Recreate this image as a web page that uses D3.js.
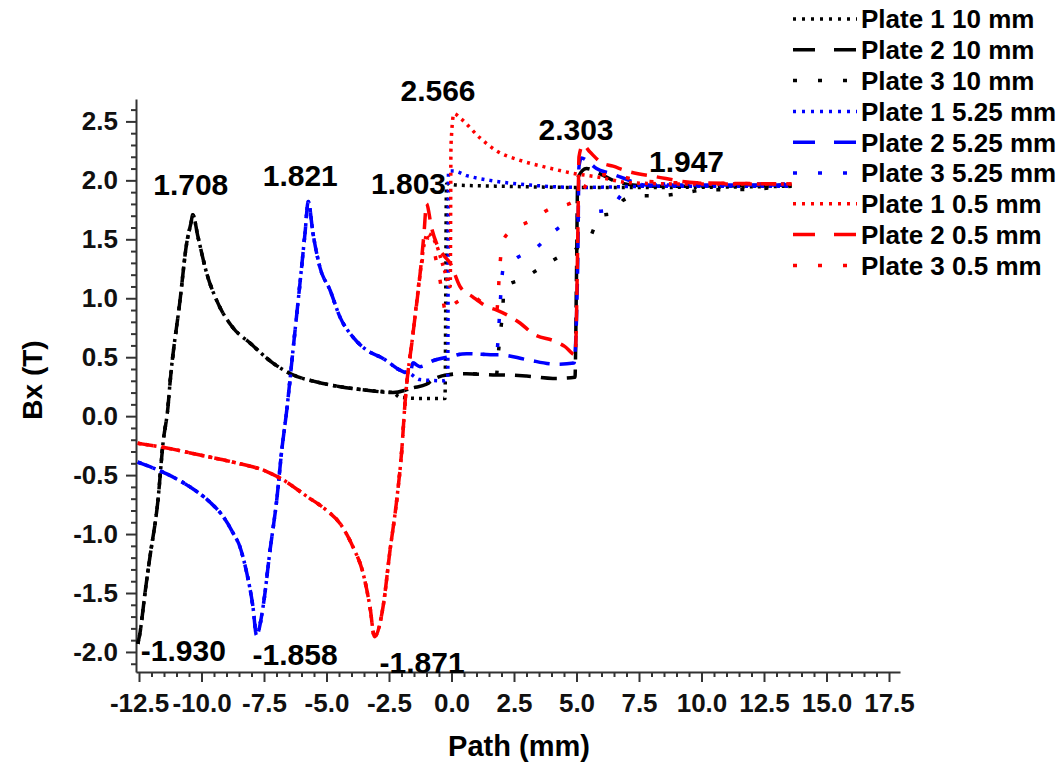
<!DOCTYPE html>
<html>
<head>
<meta charset="utf-8">
<script src="https://cdn.jsdelivr.net/npm/d3@7"></script>
<style>
    body { margin: 0; background: #fff; }
    svg { display: block; font-family: "Liberation Sans", Arial, sans-serif; font-weight: bold; }
    .axis path, .axis line { stroke: #333; stroke-width: 2; }
    .axis text { font-size: 26px; font-weight: bold; fill: #111; }
    .curve { fill: none; stroke-width: 3.5; stroke-linejoin: round; }
</style>
</head>
<body>
<svg width="1058" height="767"></svg>
<script>
// x = path (mm), y = Bx (T)

// 10 mm (black)
const black_common = [[-12.55,-1.93],[-12.46,-1.84],[-12.39,-1.73],[-12.26,-1.50],[-12.12,-1.28],[-12.06,-1.19],
    [-11.74,-0.71],[-11.54,-0.23],[-11.34,0.08],[-11.26,0.28],[-10.86,0.98],[-10.59,1.47],[-10.42,1.64],
    [-10.35,1.708],[-10.14,1.52],[-9.79,1.21],[-9.39,0.98],[-8.74,0.75],[-8.06,0.62],[-7.14,0.45],
    [-6.34,0.35],[-5.39,0.29],[-4.46,0.25],[-3.39,0.22],[-2.34,0.20]];
const black_p1 = [[-2.06,0.16],[-1.2,0.15],[-0.26,0.15],[-0.2,1.97],[0.2,1.96],[2.0,1.95],[5.1,1.94],[8.0,1.94],[13.6,1.95]];
const black_p2a = [[-1.54,0.24],[-1.0,0.27],[-0.74,0.31],[-0.19,0.35],[0.6,0.36],[1.8,0.35]];
const black_p2b = [[1.94,0.35],[3.0,0.34],[4.06,0.32],[4.94,0.33],[5.0,1.2],[5.05,2.02],[5.4,2.1],[5.9,2.06],
    [6.46,2.0],[7.26,1.96],[8.5,1.95],[13.6,1.96]];
const black_p3 = [[1.86,0.5],[1.95,0.7],[2.05,0.9],[2.1,1.09],[2.9,1.17],[3.5,1.25],[4.3,1.35],[5.0,1.42],
    [5.55,1.52],[5.94,1.7],[6.46,1.72],[6.86,1.83],[7.4,1.87],[8.34,1.87],[9.2,1.89],[10.2,1.92],[11.1,1.92],[13.6,1.95]];

// 5.25 mm (blue)
const blue_common = [[-12.55,-0.39],[-11.39,-0.49],[-10.46,-0.60],[-9.66,-0.73],[-9.14,-0.85],[-8.74,-0.99],
    [-8.46,-1.11],[-8.19,-1.33],[-7.94,-1.62],[-7.8,-1.858],[-7.54,-1.62],[-7.26,-1.14],[-6.99,-0.71],
    [-6.79,-0.29],[-6.59,0.05],[-6.34,0.56],[-6.06,1.13],[-5.86,1.55],[-5.73,1.821],[-5.54,1.55],
    [-5.26,1.26],[-4.86,1.07],[-4.46,0.84],[-3.94,0.67],[-3.39,0.56],[-2.74,0.49],[-2.06,0.39],[-1.66,0.36]];
const blue_p1 = [[-1.26,0.31],[-0.34,0.30],[-0.15,0.32],[-0.12,2.08],[0.07,2.08],[0.61,2.04],[1.54,2.0],
    [3.14,1.96],[5.14,1.94],[8.0,1.95],[13.6,1.95]];
const blue_p2a = [[-1.54,0.45],[-1.26,0.42],[-0.74,0.47],[-0.19,0.50],[0.61,0.53],[1.8,0.52]];
const blue_p2b = [[1.94,0.52],[3.0,0.48],[4.2,0.44],[4.9,0.45],[5.05,1.3],[5.1,2.12],[5.2,2.19],[5.4,2.17],
    [5.8,2.1],[6.34,2.06],[6.86,2.02],[7.8,1.96],[13.6,1.96]];
const blue_p3 = [[1.86,0.64],[1.94,0.93],[2.06,1.24],[2.6,1.34],[3.4,1.43],[4.0,1.55],[4.94,1.68],[5.66,1.73],
    [6.3,1.75],[6.86,1.89],[7.94,1.97],[13.6,1.97]];

// 0.5 mm (red)
const red_common = [[-12.55,-0.23],[-11.39,-0.27],[-10.06,-0.33],[-8.74,-0.39],[-7.39,-0.47],[-6.74,-0.54],
    [-5.79,-0.68],[-4.99,-0.80],[-4.46,-0.91],[-3.94,-1.11],[-3.54,-1.33],[-3.26,-1.62],[-3.08,-1.871],
    [-2.74,-1.62],[-2.46,-1.14],[-2.19,-0.71],[-1.99,-0.29],[-1.86,0.11],[-1.54,0.7],[-1.26,1.2]];
const red_p1 = [[-1.1,1.45],[-0.95,1.55],[-0.6,1.45],[-0.3,1.25],[-0.05,1.1],[-0.02,2.3],[0.1,2.566],[0.34,2.53],
    [1.14,2.36],[1.8,2.25],[2.74,2.17],[3.8,2.11],[4.86,2.06],[5.8,2.03],[7.14,1.98],[9.0,1.97],[13.6,1.97]];
const red_p2 = [[-1.1,1.55],[-1.0,1.803],[-0.8,1.6],[-0.59,1.46],[-0.3,1.36],[-0.06,1.30],[0.34,1.10],[0.86,1.01],
    [1.41,0.93],[1.81,0.90],[2.74,0.79],[3.26,0.70],[4.2,0.63],[4.54,0.59],[4.95,0.52],[5.05,1.5],[5.1,2.2],
    [5.26,2.30],[5.54,2.24],[6.0,2.15],[6.46,2.12],[7.0,2.08],[8.2,2.03],[9.8,1.98],[13.6,1.97]];
const red_p3 = [[-1.1,1.4],[-0.9,1.52],[-0.5,1.2],[-0.2,0.87],[0.1,0.95],[0.86,1.01],[1.41,0.93],[1.81,0.9],
    [1.94,1.29],[2.06,1.49],[2.46,1.58],[3.2,1.66],[3.94,1.76],[4.8,1.81],[5.2,1.9],[5.6,2.02],[6.3,2.05],
    [7.5,2.0],[9.0,1.98],[13.6,1.97]];

const seriesNames = ['Plate 1 10 mm', 'Plate 2 10 mm', 'Plate 3 10 mm',
    'Plate 1 5.25 mm', 'Plate 2 5.25 mm', 'Plate 3 5.25 mm',
    'Plate 1 0.5 mm', 'Plate 2 0.5 mm', 'Plate 3 0.5 mm'];

const seriesPoints = [
    black_common.concat(black_p1),
    black_common.concat(black_p2a, black_p2b),
    black_common.concat(black_p2a, black_p3),
    blue_common.concat(blue_p1),
    blue_common.concat(blue_p2a, blue_p2b),
    blue_common.concat(blue_p2a, blue_p3),
    red_common.concat(red_p1),
    red_common.concat(red_p2),
    red_common.concat(red_p3),
];

// peak / valley values written on the chart: [x, y, text]
const peakLabels = [[-10.35,1.708,'1.708'],[-5.73,1.821,'1.821'],[-1.0,1.803,'1.803'],[0.1,2.566,'2.566'],
    [5.26,2.303,'2.303'],[9.4,1.947,'1.947']];
const valleyLabels = [[-12.55,-1.93,'-1.930'],[-7.8,-1.858,'-1.858'],[-3.08,-1.871,'-1.871']];

const xTicks = d3.range(-125, 176, 25).map(v => v / 10);
const yTicks = d3.range(-20, 26, 5).map(v => v / 10);

// styles
const COLORS = ['#000000', '#0000ff', '#ff0000'];
const DASH = ['3,5', '16,10', '4,20'];
const LEGEND_DASH = ['3,6', '22,19', '4,21'];

const svg = d3.select('svg');

const x = d3.scaleLinear().domain([-12.62, 17.94]).range([136, 900]);
const y = d3.scaleLinear().domain([-2.17, 2.69]).range([672, 99]);

// minor ticks
svg.append('g')
    .attr('class', 'axis')
    .attr('transform', 'translate(0,672)')
    .call(d3.axisBottom(x)
        .tickValues(d3.range(-125, 176, 5).map(v => v / 10).filter(v => !xTicks.includes(v)))
        .tickSize(5).tickSizeOuter(0).tickFormat(''));

svg.append('g')
    .attr('class', 'axis')
    .attr('transform', 'translate(136,0)')
    .call(d3.axisLeft(y)
        .tickValues(d3.range(-21, 27).map(v => v / 10).filter(v => !yTicks.includes(v)))
        .tickSize(5).tickSizeOuter(0).tickFormat(''));

// major ticks
const xAxis = svg.append('g')
    .attr('class', 'axis')
    .attr('transform', 'translate(0,672)')
    .call(d3.axisBottom(x).tickValues(xTicks).tickSize(10).tickSizeOuter(0)
        .tickPadding(12).tickFormat(d => d.toFixed(1)));
xAxis.select('.domain').remove();

const yAxis = svg.append('g')
    .attr('class', 'axis')
    .attr('transform', 'translate(136,0)')
    .call(d3.axisLeft(y).tickValues(yTicks).tickSize(10).tickSizeOuter(0)
        .tickPadding(8).tickFormat(d => d.toFixed(1)));
yAxis.select('.domain').remove();

svg.append('text')
    .attr('x', 519)
    .attr('y', 756)
    .attr('text-anchor', 'middle')
    .style('font-size', '29px')
    .text('Path (mm)');

svg.append('text')
    .attr('transform', 'translate(42,380) rotate(-90)')
    .attr('text-anchor', 'middle')
    .style('font-size', '28px')
    .text('Bx (T)');

// curves
const line = d3.line()
    .curve(d3.curveMonotoneX)
    .x(d => x(d[0]))
    .y(d => y(d[1]));

svg.append('g')
    .selectAll('path')
    .data(seriesPoints)
    .enter()
    .append('path')
    .classed('curve', true)
    .attr('d', line)
    .attr('stroke', (d, i) => COLORS[Math.floor(i / 3)])
    .attr('stroke-dasharray', (d, i) => DASH[i % 3]);

// value labels
svg.append('g')
    .selectAll('text')
    .data(peakLabels)
    .enter()
    .append('text')
    .attr('x', (d, i) => x(d[0]) + [-2, -8, -18, -16, -7, 0][i])
    .attr('y', (d, i) => y(d[1]) - [20, 15, 10, 13, 5, 15][i])
    .attr('text-anchor', 'middle')
    .style('font-size', '30px')
    .text(d => d[2]);

svg.append('g')
    .selectAll('text')
    .data(valleyLabels)
    .enter()
    .append('text')
    .attr('x', (d, i) => x(d[0]) + [3, -4, 5][i])
    .attr('y', (d, i) => y(d[1]) + [17, 30, 36][i])
    .style('font-size', '30px')
    .text(d => d[2]);

// legend
const legend = svg.append('g')
    .selectAll('g')
    .data(seriesNames)
    .enter()
    .append('g')
    .attr('transform', (d, i) => `translate(793,${19 + i * 30.8})`);

legend.append('line')
    .attr('x1', 0)
    .attr('x2', 64)
    .attr('stroke-width', 3.5)
    .attr('stroke', (d, i) => COLORS[Math.floor(i / 3)])
    .attr('stroke-dasharray', (d, i) => LEGEND_DASH[i % 3]);

legend.append('text')
    .attr('x', 68)
    .attr('dy', '0.36em')
    .style('font-size', '26px')
    .text(d => d);
</script>
</body>
</html>
